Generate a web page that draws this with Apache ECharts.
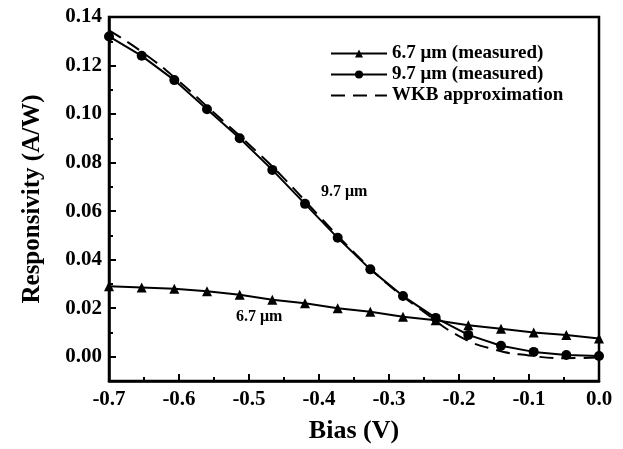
<!DOCTYPE html>
<html>
<head>
<meta charset="utf-8">
<script src="https://cdn.jsdelivr.net/npm/echarts@6/dist/echarts.min.js"></script>
<style>
	html, body { margin: 0; padding: 0; background: #fff; }
	#chart { width: 623px; height: 449px; }
</style>
</head>
<body>
<div id="chart"></div>
<script>
	// bias values (V) for the measured points
	var biasPts = [-0.7, -0.6533, -0.6067, -0.56, -0.5133, -0.4667, -0.42, -0.3733, -0.3267, -0.28, -0.2333, -0.1867, -0.14, -0.0933, -0.0467, 0];
	var resp67 = [0.029, 0.0285, 0.028, 0.027, 0.0255, 0.0235, 0.022, 0.020, 0.0185, 0.0165, 0.015, 0.013, 0.0115, 0.010, 0.009, 0.0075];
	var resp97 = [0.132, 0.124, 0.114, 0.102, 0.090, 0.077, 0.063, 0.049, 0.036, 0.025, 0.016, 0.009, 0.0045, 0.002, 0.0007, 0.0003];
	// WKB approximation curve
	var wkbBias = [-0.7, -0.65, -0.6, -0.55, -0.5, -0.45, -0.4, -0.35, -0.3, -0.25, -0.2, -0.15, -0.1, -0.05, 0];
	var wkbResp = [0.1345, 0.125, 0.1135, 0.1005, 0.0875, 0.0735, 0.058, 0.043, 0.0295, 0.0185, 0.0085, 0.003, 0.0005, -0.0006, -0.0003];
	var yMajor = [0, 0.02, 0.04, 0.06, 0.08, 0.10, 0.12, 0.14];
	var yMinor = [-0.01, 0.01, 0.03, 0.05, 0.07, 0.09, 0.11, 0.13];

	function pairs(xs, ys) {
		var out = [];
		for (var i = 0; i < xs.length; i++) out.push([xs[i], ys[i]]);
		return out;
	}

	var font = "'Liberation Serif', 'DejaVu Serif', serif";
	var chart = echarts.init(document.getElementById('chart'));

	var option = {
		animation: false,
		grid: {
			left: 109, right: 24, top: 17, bottom: 68,
			show: true, borderColor: '#000', borderWidth: 2.5, backgroundColor: 'transparent'
		},
		legend: {
			orient: 'vertical',
			left: 330, top: 44, padding: 0,
			itemWidth: 56, itemHeight: 10, itemGap: 2,
			textStyle: { fontFamily: font, fontWeight: 'bold', fontSize: 19, color: '#000' },
			data: ['6.7 μm (measured)', '9.7 μm (measured)', 'WKB approximation']
		},
		xAxis: {
			type: 'value', min: -0.7, max: 0, interval: 0.1,
			name: 'Bias (V)', nameLocation: 'middle', nameGap: 37,
			nameTextStyle: { fontFamily: font, fontWeight: 'bold', fontSize: 26, color: '#000' },
			axisLine: { onZero: false, lineStyle: { color: '#000', width: 2.5 } },
			axisTick: { inside: true, length: 7, lineStyle: { color: '#000', width: 2 } },
			minorTick: { show: true, splitNumber: 2, length: 4, lineStyle: { color: '#000', width: 2 } },
			splitLine: { show: false },
			axisLabel: {
				margin: 8, fontFamily: font, fontWeight: 'bold', fontSize: 21, color: '#000',
				formatter: function (v) { return v.toFixed(1); }
			}
		},
		yAxis: [{
			type: 'value', min: -0.01, max: 0.14,
			name: 'Responsivity (A/W)', nameLocation: 'middle', nameGap: 64,
			nameTextStyle: { fontFamily: font, fontWeight: 'bold', fontSize: 25, color: '#000' },
			axisLine: { onZero: false, lineStyle: { color: '#000', width: 2.5 } },
			axisTick: { inside: true, length: 7, customValues: yMajor, lineStyle: { color: '#000', width: 2 } },
			splitLine: { show: false },
			axisLabel: {
				margin: 7, fontFamily: font, fontWeight: 'bold', fontSize: 21, color: '#000',
				customValues: yMajor,
				formatter: function (v) { return v.toFixed(2); }
			}
		}, {
			// minor ticks, moved onto the left edge
			type: 'value', min: -0.01, max: 0.14, position: 'right', offset: -490,
			axisLine: { show: false, onZero: false },
			axisTick: { inside: false, length: 4, customValues: yMinor, lineStyle: { color: '#000', width: 2 } },
			axisLabel: { show: false },
			splitLine: { show: false }
		}],
		graphic: [{
			type: 'text', left: 321, top: 184,
			style: { text: '9.7 μm', font: 'bold 16px ' + font, fill: '#000' }
		}, {
			type: 'text', left: 236, top: 309,
			style: { text: '6.7 μm', font: 'bold 16px ' + font, fill: '#000' }
		}],
		series: [{
			name: '6.7 μm (measured)', type: 'line',
			data: pairs(biasPts, resp67),
			symbol: 'triangle', symbolSize: 10,
			itemStyle: { color: '#000' },
			lineStyle: { color: '#000', width: 2 }
		}, {
			name: '9.7 μm (measured)', type: 'line',
			data: pairs(biasPts, resp97),
			symbol: 'circle', symbolSize: 10,
			itemStyle: { color: '#000' },
			lineStyle: { color: '#000', width: 2 }
		}, {
			name: 'WKB approximation', type: 'line',
			data: pairs(wkbBias, wkbResp),
			symbol: 'none', smooth: true,
			itemStyle: { color: 'rgba(0,0,0,0)' },
			lineStyle: { color: '#000', width: 2, type: [14, 8] }
		}]
	};
	chart.setOption(option);
</script>
</body>
</html>
